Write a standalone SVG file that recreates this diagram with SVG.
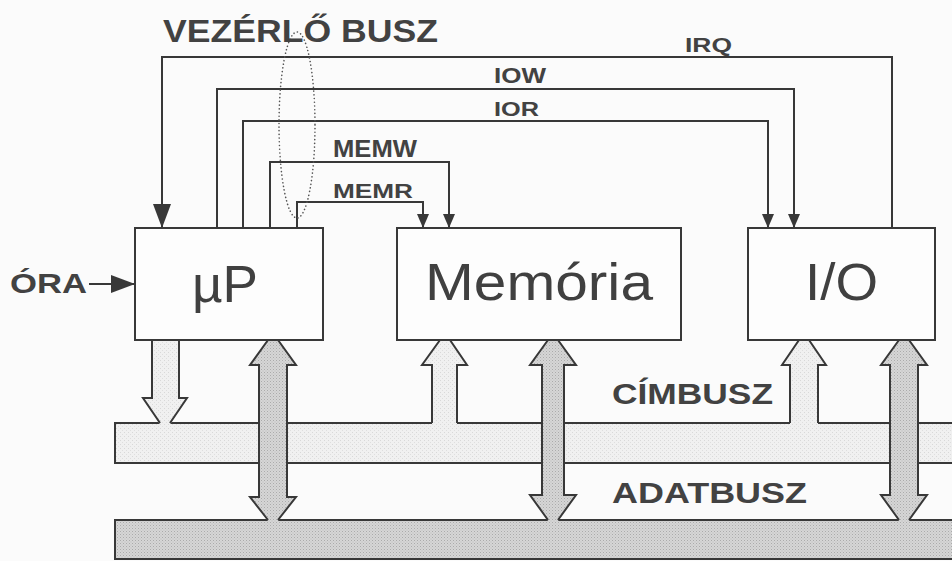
<svg xmlns="http://www.w3.org/2000/svg" width="952" height="561" viewBox="0 0 952 561">
<defs>
<pattern id="addrFill" width="4" height="4" patternUnits="userSpaceOnUse">
<rect width="4" height="4" fill="#f0f0f0"/>
<rect x="0" y="0" width="1" height="1" fill="#d8d8d8"/>
<rect x="2" y="2" width="1" height="1" fill="#dedede"/>
</pattern>
<pattern id="dataFill" width="3" height="3" patternUnits="userSpaceOnUse">
<rect width="3" height="3" fill="#d6d6d6"/>
<rect x="0" y="0" width="1" height="1" fill="#ababab"/>
<rect x="1.5" y="1.5" width="1" height="1" fill="#bcbcbc"/>
</pattern>
<marker id="arrS" markerUnits="userSpaceOnUse" markerWidth="14" markerHeight="18" refX="14" refY="7" orient="auto">
<path d="M0,1 L14,7 L0,13 Z" fill="#383838"/>
</marker>
<marker id="arrL" markerUnits="userSpaceOnUse" markerWidth="24" markerHeight="20" refX="24" refY="9" orient="auto">
<path d="M0,0 L24,9 L0,18 Z" fill="#383838"/>
</marker>
</defs>
<style>
.ln{fill:none;stroke:#383838;stroke-width:2;stroke-linejoin:miter}
.box{fill:#fdfdfd;stroke:#383838;stroke-width:2}
.bus{stroke:#383838;stroke-width:2}
.side{fill:none;stroke:#383838;stroke-width:2;stroke-linejoin:miter}
.lbl{font-family:"Liberation Sans",Arial,sans-serif;font-weight:bold;fill:#424242}
.big{font-family:"Liberation Sans",Arial,sans-serif;font-size:52px;fill:#404040}
</style>
<rect width="952" height="561" fill="#fbfbfb"/>

<g id="address-bus">
<rect class="bus" x="115" y="423" width="850" height="40" fill="url(#addrFill)"/>
</g>
<g id="data-bus">
<rect class="bus" x="115" y="520" width="850" height="39" fill="url(#dataFill)"/>
</g>

<g id="connectors">
<g id="up-addr-arrow">
<polygon points="152,339 179,339 179,398 187,398 170,424.5 160,424.5 143,398 152,398" fill="url(#addrFill)"/>
<polyline class="side" points="152,340 152,398 143,398 160,423"/>
<polyline class="side" points="179,340 179,398 187,398 170,423"/>
</g>
<g id="mem-addr-arrow">
<polygon points="440,339 450,339 467,365 457,365 457,424.5 432,424.5 432,365 422,365" fill="url(#addrFill)"/>
<polyline class="side" points="440,340 422,365 432,365 432,423"/>
<polyline class="side" points="450,340 467,365 457,365 457,423"/>
</g>
<g id="io-addr-arrow">
<polygon points="799,339 809,339 826,365 818,365 818,424.5 790,424.5 790,365 782,365" fill="url(#addrFill)"/>
<polyline class="side" points="799,340 782,365 790,365 790,423"/>
<polyline class="side" points="809,340 826,365 818,365 818,423"/>
</g>
<g id="up-data-arrow">
<polygon points="268,339 278,339 296,365 287,365 287,497 296,497 278,521 268,521 250,497 259,497 259,365 250,365" fill="url(#dataFill)"/>
<polyline class="side" points="268,340 250,365 259,365 259,497 250,497 268,520"/>
<polyline class="side" points="278,340 296,365 287,365 287,497 296,497 278,520"/>
</g>
<g id="mem-data-arrow">
<polygon points="548,339 558,339 576,365 564,365 564,495 576,495 558,521 548,521 530,495 542,495 542,365 530,365" fill="url(#dataFill)"/>
<polyline class="side" points="548,340 530,365 542,365 542,495 530,495 548,520"/>
<polyline class="side" points="558,340 576,365 564,365 564,495 576,495 558,520"/>
</g>
<g id="io-data-arrow">
<polygon points="899,339 909,339 927,365 918,365 918,495 927,495 909,521 899,521 881,495 890,495 890,365 881,365" fill="url(#dataFill)"/>
<polyline class="side" points="899,340 881,365 890,365 890,495 881,495 899,520"/>
<polyline class="side" points="909,340 927,365 918,365 918,495 927,495 909,520"/>
</g>
<path class="ln" d="M892,228 V57 H162 V228" marker-end="url(#arrL)"/>
<path class="ln" d="M217,228 V89 H794 V228" marker-end="url(#arrS)"/>
<path class="ln" d="M243,228 V121 H768 V228" marker-end="url(#arrS)"/>
<path class="ln" d="M270,228 V162 H449 V228" marker-end="url(#arrS)"/>
<path class="ln" d="M297,228 V202 H423 V228" marker-end="url(#arrS)"/>
<path class="ln" d="M89,284 H135" marker-end="url(#arrL)"/>
<ellipse cx="297" cy="125" rx="18" ry="93" fill="none" stroke="#555" stroke-width="1.6" stroke-dasharray="0.1 3.6" stroke-linecap="round"/>
</g>

<g id="up">
<rect class="box" x="135" y="228" width="188" height="112"/>
<text class="big" x="192" y="302" textLength="66" lengthAdjust="spacingAndGlyphs">µP</text>
</g>
<g id="memoria">
<rect class="box" x="397" y="228" width="284" height="112"/>
<text class="big" x="425" y="300" textLength="228" lengthAdjust="spacingAndGlyphs">Memória</text>
</g>
<g id="io">
<rect class="box" x="748" y="228" width="187" height="112"/>
<text class="big" x="805" y="300" textLength="73" lengthAdjust="spacingAndGlyphs">I/O</text>
</g>

<g id="labels">
<text class="lbl" x="163" y="42" font-size="31" textLength="275" lengthAdjust="spacingAndGlyphs">VEZÉRLŐ BUSZ</text>
<text class="lbl" x="685" y="52" font-size="21" textLength="47" lengthAdjust="spacingAndGlyphs">IRQ</text>
<text class="lbl" x="494" y="83" font-size="22" textLength="52" lengthAdjust="spacingAndGlyphs">IOW</text>
<text class="lbl" x="494" y="116" font-size="21" textLength="45" lengthAdjust="spacingAndGlyphs">IOR</text>
<text class="lbl" x="333" y="157" font-size="23" textLength="84" lengthAdjust="spacingAndGlyphs">MEMW</text>
<text class="lbl" x="333" y="198" font-size="21" textLength="80" lengthAdjust="spacingAndGlyphs">MEMR</text>
<text class="lbl" x="10" y="293" font-size="28" textLength="77" lengthAdjust="spacingAndGlyphs">ÓRA</text>
<text class="lbl" x="612" y="404" font-size="29" textLength="161" lengthAdjust="spacingAndGlyphs">CÍMBUSZ</text>
<text class="lbl" x="612" y="503" font-size="29" textLength="195" lengthAdjust="spacingAndGlyphs">ADATBUSZ</text>
</g>
</svg>
